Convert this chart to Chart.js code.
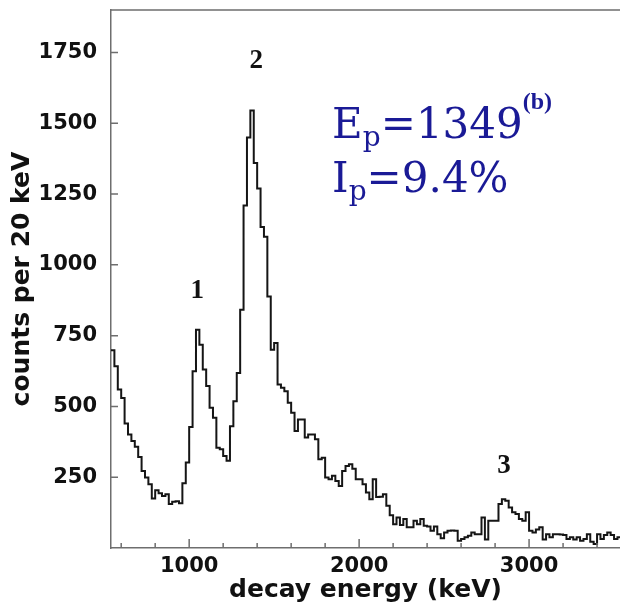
<!DOCTYPE html>
<html>
<head>
<meta charset="utf-8">
<script src="https://cdn.jsdelivr.net/npm/chart.js@4.4.0/dist/chart.umd.min.js"></script>
<style>
  html, body { margin: 0; padding: 0; background: #fff; }
  canvas { display: block; }
</style>
</head>
<body>
<canvas id="grafico" width="620" height="607"></canvas>
<script>
// Histogram: counts per 20 keV bin, starting at 540 keV
const binStart = 540;
const binWidth = 20;
const counts = [
  698, 642, 560, 530, 440, 401, 378, 358, 321, 272,
  249, 225, 175, 204, 193, 184, 190, 155, 163, 165,
  158, 229, 302, 427, 624, 771, 718, 630, 572, 495,
  460, 354, 349, 325, 308, 430, 518, 618, 841, 1210,
  1450, 1545, 1360, 1270, 1134, 1099, 888, 700, 724, 577,
  566, 554, 513, 478, 413, 454, 454, 390, 401, 401,
  384, 313, 319, 249, 243, 255, 237, 219, 272, 290,
  296, 280, 243, 243, 225, 196, 172, 243, 180, 181,
  190, 149, 116, 84, 108, 81, 102, 73, 73, 96,
  84, 102, 79, 76, 61, 76, 49, 34, 55, 61,
  62, 61, 26, 32, 38, 43, 55, 49, 49, 108,
  30, 96, 96, 96, 155, 172, 167, 143, 126, 120,
  102, 96, 126, 61, 55, 65, 73, 30, 49, 38,
  49, 49, 48, 46, 32, 38, 30, 38, 26, 32,
  49, 22, 14, 49, 32, 46, 55, 46, 32, 38
];

// Axes
const xMin = 540, xMax = 3535;
const yMin = 0, yMax = 1900;
const xTickValues = [600, 800, 1000, 1200, 1400, 1600, 1800, 2000, 2200, 2400, 2600, 2800, 3000, 3200, 3400];
const xLabelled = [1000, 2000, 3000];
const yTickValues = [250, 500, 750, 1000, 1250, 1500, 1750];

// Peak labels (energy, counts)
const peakNames = ['1', '2', '3'];
const peakLabelX = [1047, 1394, 2852];
const peakLabelY = [883, 1696, 265];

// Blue annotation
const infoX = 1841;
const infoY = [1449, 1258];

const corEixo = '#6e6e6e';
const corLinha = '#151515';
const corAzul = '#1a1a96';

// build stepped points: each bin's left edge, plus the last right edge
const pontos = counts.map((c, i) => ({ x: binStart + i * binWidth, y: c }));
pontos.push({ x: binStart + counts.length * binWidth, y: counts[counts.length - 1] });

const fonteEixo = { family: 'DejaVu Sans', weight: 'bold', size: 21 };
const fonteTitulo = { family: 'DejaVu Sans', weight: 'bold', size: 25, lineHeight: 1.2 };

// inward ticks + top frame line
const ticksInternos = {
  id: 'ticksInternos',
  afterDatasetsDraw(chart) {
    const { ctx, chartArea: a, scales: { x, y } } = chart;
    ctx.save();
    ctx.strokeStyle = corEixo;
    ctx.lineWidth = 1.5;
    ctx.beginPath();
    ctx.moveTo(a.left, a.top);
    ctx.lineTo(a.right, a.top);
    xTickValues.forEach(v => {
      const px = x.getPixelForValue(v);
      const len = xLabelled.includes(v) ? 9 : 5;
      ctx.moveTo(px, a.bottom);
      ctx.lineTo(px, a.bottom - len);
    });
    yTickValues.forEach(v => {
      const py = y.getPixelForValue(v);
      ctx.moveTo(a.left, py);
      ctx.lineTo(a.left + 7, py);
    });
    ctx.stroke();
    ctx.restore();
  }
};

// peak numbers and the blue E_p / I_p text
const anotacoes = {
  id: 'anotacoes',
  afterDraw(chart) {
    const { ctx, scales: { x, y } } = chart;
    ctx.save();
    ctx.fillStyle = '#111';
    ctx.font = 'bold 27px "Liberation Serif"';
    ctx.textAlign = 'center';
    ctx.textBaseline = 'alphabetic';
    peakNames.forEach((n, i) => {
      ctx.fillText(n, x.getPixelForValue(peakLabelX[i]), y.getPixelForValue(peakLabelY[i]));
    });

    ctx.textAlign = 'left';
    ctx.fillStyle = corAzul;
    const escreve = (partes, px, py) => {
      partes.forEach(p => {
        ctx.font = p.font;
        ctx.fillText(p.t, px, py + (p.dy || 0));
        px += ctx.measureText(p.t).width;
      });
    };
    const grande = '42px "DejaVu Serif"';
    const sub = '28px "DejaVu Serif"';
    escreve([
      { t: 'E', font: grande },
      { t: 'p', font: sub, dy: 8 },
      { t: '=1349', font: grande },
      { t: '(b)', font: 'bold 24px "Liberation Serif"', dy: -29 }
    ], x.getPixelForValue(infoX), y.getPixelForValue(infoY[0]));
    escreve([
      { t: 'I', font: grande },
      { t: 'p', font: sub, dy: 8 },
      { t: '=9.4%', font: grande }
    ], x.getPixelForValue(infoX), y.getPixelForValue(infoY[1]));
    ctx.restore();
  }
};

new Chart(document.getElementById('grafico'), {
  type: 'line',
  data: {
    datasets: [{
      data: pontos,
      stepped: true,
      borderColor: corLinha,
      borderWidth: 2,
      pointRadius: 0,
      fill: false
    }]
  },
  options: {
    responsive: false,
    animation: false,
    layout: { padding: { top: 10, right: 0, left: 0, bottom: 0 } },
    plugins: { legend: { display: false }, tooltip: { enabled: false } },
    scales: {
      x: {
        type: 'linear',
        min: xMin,
        max: xMax,
        afterBuildTicks: s => { s.ticks = xTickValues.map(v => ({ value: v })); },
        afterFit: s => { s.height = 59; s.paddingLeft = 0; s.paddingRight = 0; },
        grid: { display: false, drawTicks: false },
        border: { display: true, color: corEixo, width: 1.5 },
        ticks: {
          padding: 6,
          maxRotation: 0,
          autoSkip: false,
          color: '#111',
          font: fonteEixo,
          callback: v => xLabelled.includes(v) ? String(v) : ''
        },
        title: {
          display: true,
          text: 'decay energy (keV)',
          color: '#111',
          font: fonteTitulo,
          padding: { top: 0, bottom: 2 }
        }
      },
      y: {
        min: yMin,
        max: yMax,
        afterBuildTicks: s => { s.ticks = yTickValues.map(v => ({ value: v })); },
        afterFit: s => { s.width = 111; s.paddingTop = 0; s.paddingBottom = 0; },
        grid: { display: false, drawTicks: false },
        border: { display: true, color: corEixo, width: 1.5 },
        ticks: {
          padding: 14,
          color: '#111',
          font: fonteEixo,
          callback: v => String(v)
        },
        title: {
          display: true,
          text: 'counts per 20 keV',
          color: '#111',
          font: fonteTitulo,
          padding: { top: 7, bottom: 0 }
        }
      }
    }
  },
  plugins: [ticksInternos, anotacoes]
});
</script>
</body>
</html>
